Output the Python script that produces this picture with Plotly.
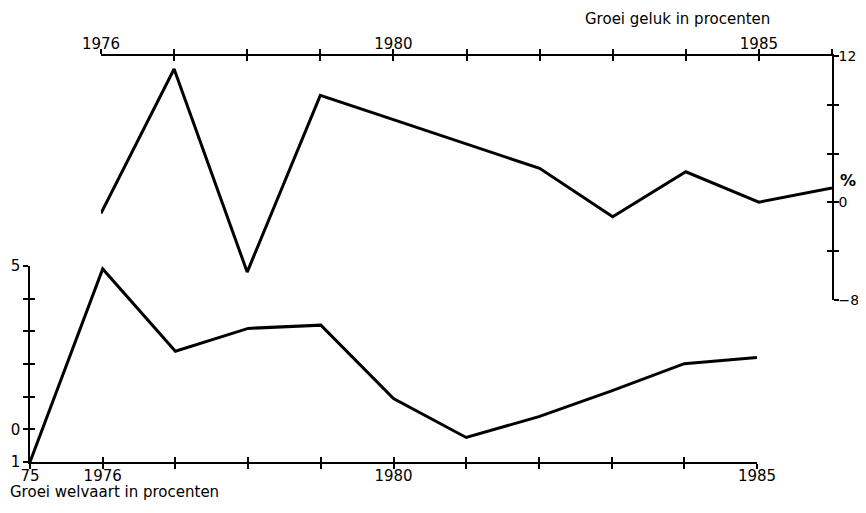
import plotly.graph_objects as go

# ---- data ----
years_welvaart = [1975, 1976, 1977, 1978, 1979, 1980, 1981, 1982, 1983, 1984, 1985]
welvaart = [-1.0, 4.91, 2.39, 3.09, 3.19, 0.94, -0.25, 0.39, 1.18, 2.01, 2.2]

years_geluk = [1976, 1977, 1978, 1979, 1980, 1981, 1982, 1983, 1984, 1985, 1986]
geluk = [-0.89, 10.93, -5.71, 8.77, 6.78, 4.78, 2.79, -1.18, 2.51, 0.02, 1.18]

bottom_ticktext = ["75", "1976", "", "", "", "1980", "", "", "", "", "1985"]
top_ticktext = ["1976", "", "", "", "1980", "", "", "", "", "1985", ""]
left_tickvals = [-1, 0, 1, 2, 3, 4, 5]
left_ticktext = ["1", "0", "", "", "", "", "5"]
right_tickvals = [-8, -4, 0, 4, 8, 12]
right_ticktext = ["\u22128", "", "0", "", "", "12"]

# page body has an 8px margin; the figure is sized to stay inside the window
OFF = 8
W, H = 866 - OFF, 492
FONT = "DejaVu Sans, Liberation Sans, Arial, sans-serif"
FS = 15

def px_x(p):
    return (p - OFF) / W

def px_y(p):
    return 1 - (p - OFF) / H

fig = go.Figure()
fig.add_trace(go.Scatter(x=years_welvaart, y=welvaart, mode="lines",
                         line=dict(color="black", width=3), xaxis="x", yaxis="y",
                         showlegend=False, hoverinfo="skip"))
fig.add_trace(go.Scatter(x=years_geluk, y=geluk, mode="lines",
                         line=dict(color="black", width=3), xaxis="x2", yaxis="y2",
                         showlegend=False, hoverinfo="skip"))

axis_common = dict(showgrid=False, zeroline=False, showline=True, linecolor="black",
                   linewidth=1.5, ticks="outside", ticklen=5, tickwidth=1.5,
                   tickcolor="black", fixedrange=True, automargin=False)
inner_common = dict(showgrid=False, zeroline=False, showline=False, ticks="inside",
                    ticklen=5, tickwidth=1.5, tickcolor="black", showticklabels=False,
                    fixedrange=True, automargin=False)
tick_font = dict(family=FONT, size=FS, color="black")
right_font = dict(family=FONT, size=14, color="black")

xdom1 = [px_x(30), px_x(757)]
xdom2 = [px_x(101), px_x(832)]
ydom1 = [px_y(462), px_y(266)]
ydom2 = [px_y(300), px_y(56)]

fig.update_layout(
    template="none",
    width=W, height=H,
    margin=dict(l=0, r=0, t=0, b=0, pad=0),
    paper_bgcolor="white", plot_bgcolor="rgba(0,0,0,0)",
    font=dict(family=FONT, size=FS, color="black"),
    xaxis=dict(domain=xdom1, range=[1975, 1985], anchor="y", side="bottom",
               tickmode="array", tickvals=years_welvaart, ticktext=bottom_ticktext,
               ticklabelstandoff=-6, tickfont=tick_font, **axis_common),
    yaxis=dict(domain=ydom1, range=[-1, 5], anchor="x", side="left",
               tickmode="array", tickvals=left_tickvals, ticktext=left_ticktext,
               tickfont=tick_font, **axis_common),
    xaxis2=dict(domain=xdom2, range=[1976, 1986], anchor="y2", side="top",
                tickmode="array", tickvals=years_geluk, ticktext=top_ticktext,
                ticklabelstandoff=-6, tickfont=tick_font, **axis_common),
    yaxis2=dict(domain=ydom2, range=[-8, 12], anchor="x2", side="right",
                tickmode="array", tickvals=right_tickvals, ticktext=right_ticktext,
                ticklabelstandoff=-3, tickfont=right_font, **axis_common),
    # overlay axes giving the ticks that cross to the inner side
    xaxis3=dict(overlaying="x", range=[1975, 1985], anchor="y", side="bottom",
                tickmode="array", tickvals=years_welvaart, **inner_common),
    yaxis3=dict(overlaying="y", range=[-1, 5], anchor="x", side="left",
                tickmode="array", tickvals=left_tickvals, **inner_common),
    xaxis4=dict(overlaying="x2", range=[1976, 1986], anchor="y2", side="top",
                tickmode="array", tickvals=years_geluk, **inner_common),
    yaxis4=dict(overlaying="y2", range=[-8, 12], anchor="x2", side="right",
                tickmode="array", tickvals=right_tickvals, **inner_common),
    annotations=[
        dict(text="Groei geluk in procenten", x=px_x(677), y=px_y(19), xref="paper",
             yref="paper", xanchor="center", yanchor="middle", showarrow=False,
             font=dict(family=FONT, size=FS, color="black")),
        dict(text="Groei welvaart in procenten", x=px_x(8), y=px_y(492), xref="paper",
             yref="paper", xanchor="left", yanchor="middle", showarrow=False,
             font=dict(family=FONT, size=FS, color="black")),
        dict(text="<b>%</b>", x=px_x(838), y=px_y(180), xref="paper", yref="paper",
             xanchor="left", yanchor="middle", showarrow=False,
             font=dict(family=FONT, size=16, color="black")),
    ],
)

# invisible traces so the overlay axes are drawn
fig.add_trace(go.Scatter(x=[1975], y=[-1], xaxis="x3", yaxis="y3", mode="markers",
                         marker=dict(opacity=0), showlegend=False, hoverinfo="skip"))
fig.add_trace(go.Scatter(x=[1976], y=[-8], xaxis="x4", yaxis="y4", mode="markers",
                         marker=dict(opacity=0), showlegend=False, hoverinfo="skip"))

fig.write_html("out.html")
